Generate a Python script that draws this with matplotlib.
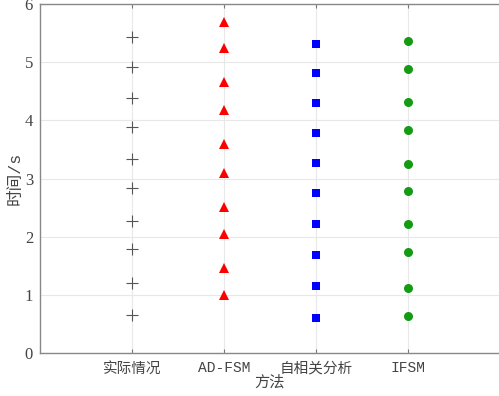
import matplotlib
matplotlib.use("Agg")
import matplotlib.pyplot as plt

categories = ["实际情况", "AD-FSM", "自相关分析", "IFSM"]
actual = [5.44, 4.92, 4.39, 3.88, 3.33, 2.84, 2.27, 1.78, 1.21, 0.65]
ad_fsm = [5.70, 5.24, 4.66, 4.18, 3.59, 3.10, 2.51, 2.05, 1.47, 0.99]
autocorr = [5.32, 4.82, 4.30, 3.79, 3.26, 2.75, 2.21, 1.68, 1.15, 0.60]
ifsm = [5.36, 4.88, 4.31, 3.83, 3.25, 2.78, 2.21, 1.73, 1.11, 0.64]
yticks = [0, 1, 2, 3, 4, 5, 6]

cjk = ["Liberation Mono", "Noto Sans CJK SC", "DejaVu Sans"]
serif = ["Liberation Serif", "DejaVu Serif"]

fig = plt.figure(figsize=(4.99, 3.96), dpi=100)
ax = fig.add_axes([0.0802, 0.1086, 0.921, 0.881])

series = [
    (actual, dict(marker="+", color="#555555", markersize=8, mew=0.8)),
    (ad_fsm, dict(marker="^", color="#ff0000", markersize=7, mew=0)),
    (autocorr, dict(marker="s", color="#0000ff", markersize=5.5, mew=0)),
    (ifsm, dict(marker="o", color="#149b14", markersize=6.5, mew=0)),
]
for i, (vals, st) in enumerate(series):
    ax.plot([i + 1] * len(vals), vals, linestyle="none", zorder=3, **st)

ax.set_xlim(0, 5)
ax.set_ylim(0, 6)
ax.set_xticks(range(1, len(categories) + 1))
ax.set_xticklabels(categories, fontsize=10.5, color="#444444", family=cjk)
ax.set_yticks(yticks)
ax.set_yticklabels([str(v) for v in yticks], fontsize=12, color="#444444", family=serif)
ax.grid(True, color="#e8e8e8", linewidth=0.8)
ax.set_axisbelow(True)
ax.tick_params(direction="in", top=True, right=False, length=3, color="#777777", pad=6)
ax.tick_params(axis="y", length=0, pad=5)
for s in ["left", "bottom", "top"]:
    ax.spines[s].set_color("#888888")
    ax.spines[s].set_linewidth(1.0)
ax.spines["right"].set_visible(False)

ax.set_xlabel("方法", fontsize=11, family=cjk, color="#444444", labelpad=0)
ax.set_ylabel("时间/s", fontsize=12, family=cjk, color="#444444")
ax.yaxis.set_label_coords(-0.038, 0.5)

fig.savefig("out.png", dpi=100)
